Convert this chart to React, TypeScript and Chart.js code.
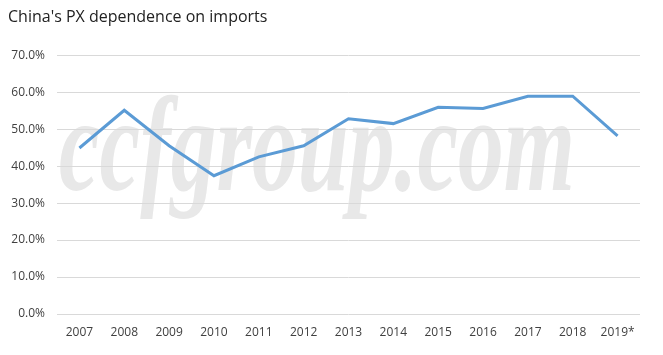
import React, { useEffect, useRef } from "react";
import { Chart, registerables } from "chart.js";

Chart.register(...registerables);

const categories = ["2007", "2008", "2009", "2010", "2011", "2012", "2013", "2014", "2015", "2016", "2017", "2018", "2019*"];
const dependence = [44.9, 55.1, 45.5, 37.4, 42.5, 45.5, 52.8, 51.5, 55.9, 55.6, 58.9, 58.9, 48.2];
const titleText = "China's PX dependence on imports";
const watermarkText = "ccfgroup.com";

const watermarkPlugin = {
  id: "watermark",
  beforeDraw(chart: any) {
    const ctx = chart.ctx;
    ctx.save();
    ctx.font = "italic bold 136px 'Liberation Serif'";
    ctx.fillStyle = "#e8e8e8";
    ctx.textBaseline = "alphabetic";
    const w = ctx.measureText(watermarkText).width;
    const targetW = 516;
    ctx.translate(59, 190);
    ctx.scale(targetW / w, 1);
    ctx.fillText(watermarkText, 0, 0);
    ctx.restore();
  },
};

export default function App() {
  const ref = useRef<HTMLCanvasElement>(null);
  useEffect(() => {
    document.body.style.margin = "0";
    const chart = new Chart(ref.current!, {
      type: "line",
      data: {
        labels: categories,
        datasets: [
          {
            data: dependence,
            borderColor: "#5B9BD5",
            borderWidth: 3,
            pointRadius: 0,
            tension: 0,
            fill: false,
          },
        ],
      },
      plugins: [watermarkPlugin],
      options: {
        animation: false,
        responsive: false,
        layout: { padding: { top: 8, left: 8, right: 23, bottom: 0 } },
        plugins: {
          legend: { display: false },
          tooltip: { enabled: false },
          title: {
            display: true,
            text: titleText,
            align: "start",
            color: "#222222",
            font: { family: "'Open Sans'", size: 16, weight: "normal" },
            padding: { top: 0, bottom: 28 },
          },
        },
        scales: {
          x: {
            offset: true,
            grid: { display: false },
            border: { display: false },
            ticks: { color: "#404040", font: { family: "'Open Sans'", size: 12 }, padding: 3, maxRotation: 0 },
            afterFit(scale: any) {
              scale.height = 41;
            },
          },
          y: {
            min: 0,
            max: 70,
            ticks: {
              stepSize: 10,
              color: "#404040",
              font: { family: "'Open Sans'", size: 12 },
              padding: 12,
              callback: (v: any) => Number(v).toFixed(1) + "%",
            },
            grid: { color: "#d9d9d9", lineWidth: 1, drawTicks: false },
            border: { display: false },
            afterFit(scale: any) {
              scale.width = 49;
            },
          },
        },
      },
    });
    return () => chart.destroy();
  }, []);
  return <canvas ref={ref} width={663} height={355} style={{ display: "block" }} />;
}
